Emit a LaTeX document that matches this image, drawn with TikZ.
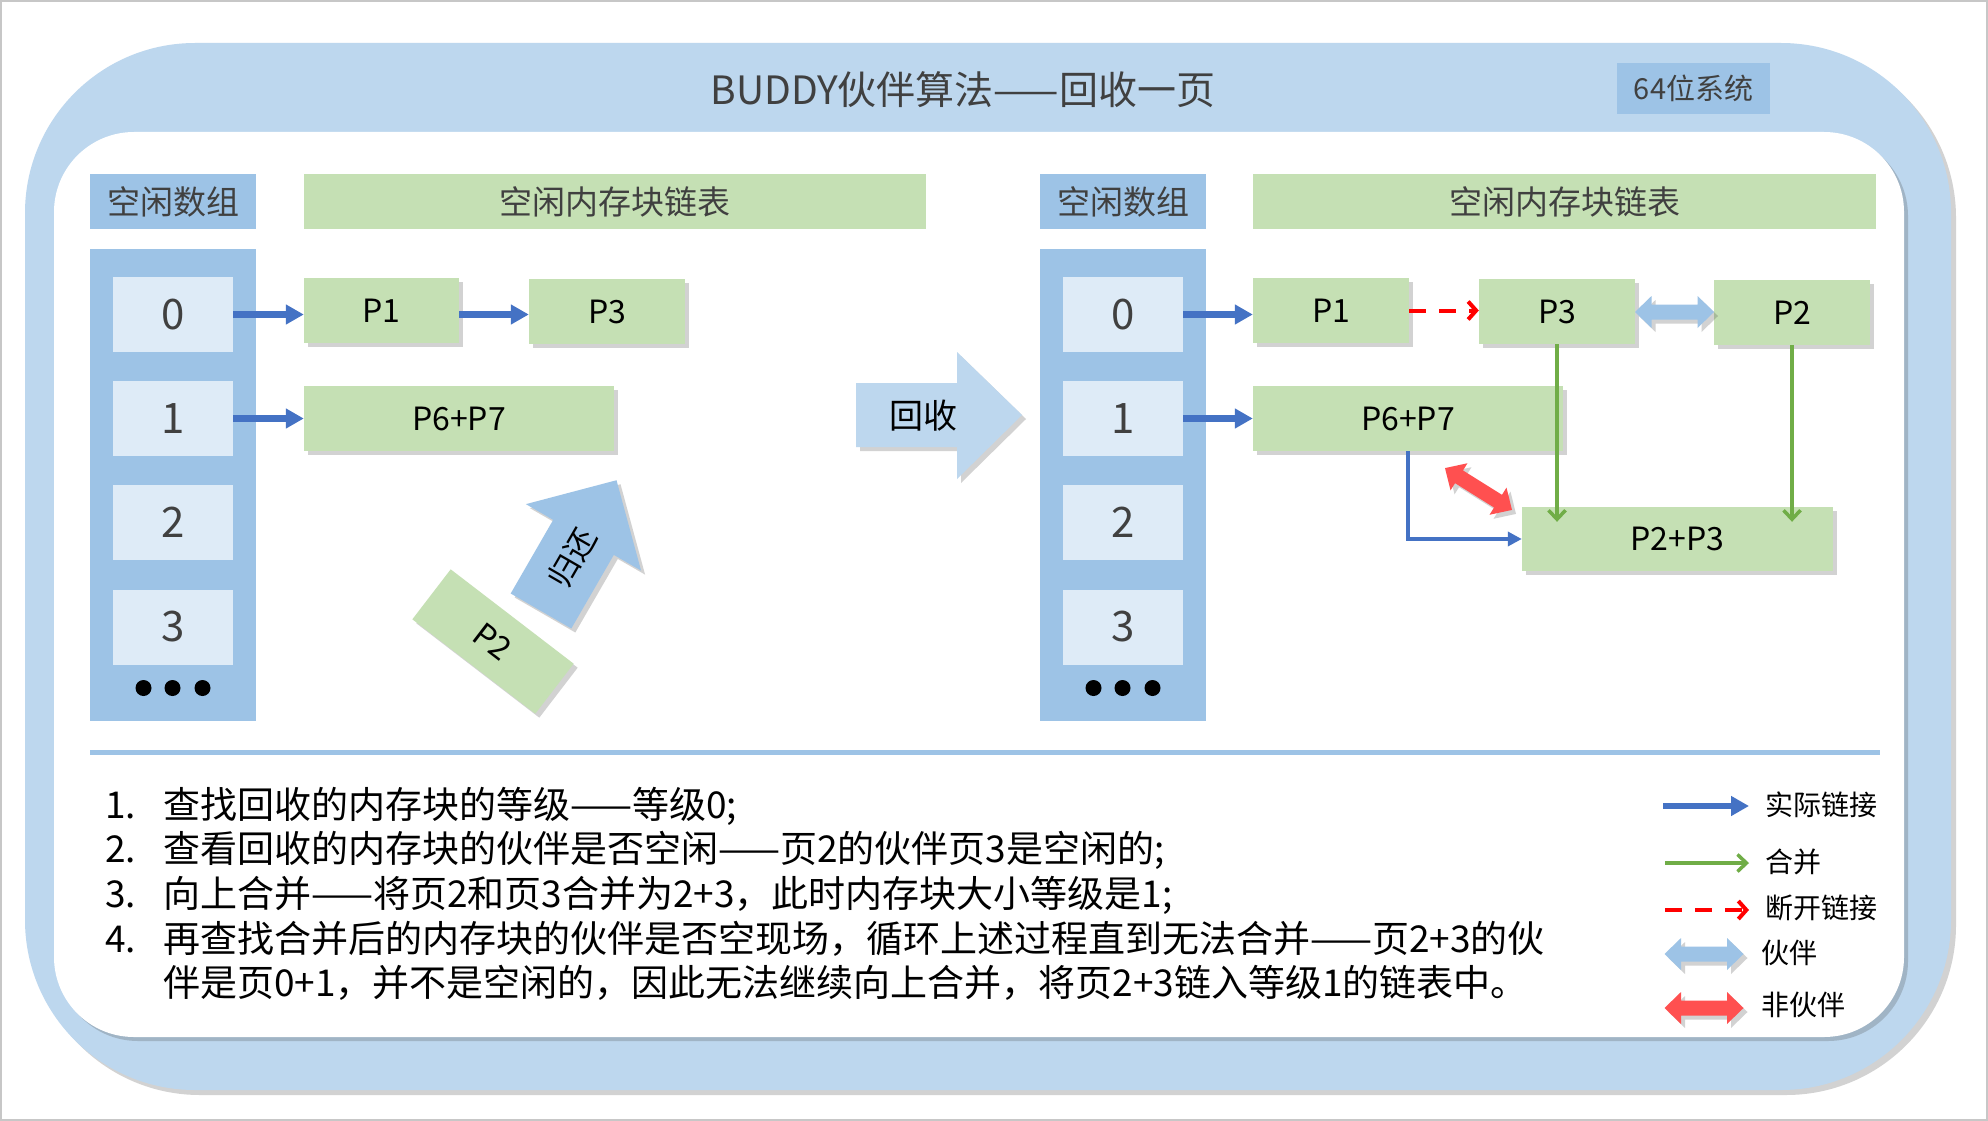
\documentclass[tikz,border=0pt]{standalone}
\usepackage{fontspec}
\setmainfont{Noto Sans CJK SC}
\usetikzlibrary{arrows.meta,shadows,calc}
\definecolor{frame}{HTML}{BDD7EE}
\definecolor{hdr}{HTML}{9DC3E6}
\definecolor{cell}{HTML}{DEEBF7}
\definecolor{grn}{HTML}{C5E0B4}
\definecolor{blu}{HTML}{4472C4}
\definecolor{lgrn}{HTML}{70AD47}
\definecolor{nred}{HTML}{FF5050}
\definecolor{txt}{HTML}{404040}
\tikzset{
 shd/.style={drop shadow={shadow xshift=4pt,shadow yshift=-4pt,opacity=.25,fill=black!70}},
 hdrbox/.style={fill=hdr, minimum height=55pt, inner sep=0pt, text=txt, font=\fontsize{33}{40}\selectfont},
 ghdr/.style={hdrbox, fill=grn},
 colbox/.style={fill=hdr, minimum width=166pt, minimum height=472pt, inner sep=0pt},
 cellbox/.style={fill=cell, minimum width=120pt, minimum height=75pt, inner sep=0pt, text=txt, font=\fontsize{42}{50}\selectfont},
 pbox/.style={fill=grn, minimum height=65pt, minimum width=156pt, inner sep=0pt, text=black, font=\fontsize{32}{38}\selectfont, shd},
 lnk/.style={draw=blu, line width=6.5pt, -{Triangle[length=18pt,width=19pt]}},
 lnkthin/.style={draw=blu, line width=4pt, -{Triangle[length=14pt,width=14pt]}},
 brk/.style={draw=red, line width=4pt, dash pattern=on 17pt off 13pt, -{Straight Barb[length=8pt,width=18pt]}},
 mrg/.style={draw=lgrn, line width=3.5pt, -{Straight Barb[length=9pt,width=17pt]}},
 lst/.style={inner sep=0pt, anchor=base west, text=black, font=\fontsize{37}{44}\selectfont},
 legt/.style={inner sep=0pt, anchor=west, text=black, font=\fontsize{28}{34}\selectfont},
 dotc/.style={circle, fill=black, minimum size=16pt, inner sep=0pt},
 dblarr/.pic={\path[pic actions, shd] (-39.5,0) -- (-23,-16) -- (-23,-7.5) -- (23,-7.5) -- (23,-16) -- (39.5,0) -- (23,16) -- (23,7.5) -- (-23,7.5) -- (-23,16) -- cycle;}
}
\begin{document}
\begin{tikzpicture}[x=1pt,y=-1pt]
\useasboundingbox (0,0) rectangle (1988,1121);
\fill[white] (0,0) rectangle (1988,1121);
\draw[line width=2pt, black!22] (1,1) rectangle (1987,1120);

% frames
\path[fill=frame, rounded corners=170pt, drop shadow={shadow xshift=5pt,shadow yshift=-5pt,opacity=.25,fill=black!70}] (25,43) rectangle (1951,1090);
\path[fill=white, rounded corners=80pt, shd] (54,132) rectangle (1904,1037);

% title
\node[text=txt, font=\fontsize{39}{46}\selectfont, inner sep=0pt] (title) at (963,90) {BUDDY伙伴算法——回收一页};
\node[fill=hdr, minimum width=153pt, minimum height=51pt, inner sep=0pt, text=txt, font=\fontsize{29}{34}\selectfont] (sys) at (1693.5,88.5) {64位系统};

% ---------- left section ----------
\node[hdrbox, minimum width=166pt] (hA1) at (173,201.5) {空闲数组};
\node[ghdr, minimum width=622pt] (hB1) at (615,201.5) {空闲内存块链表};
\node[colbox] (col1) at (173,485) {};
\node[cellbox] (a0) at (173,314.5) {0};
\node[cellbox] (a1) at (173,418.5) {1};
\node[cellbox] (a2) at (173,522.5) {2};
\node[cellbox] (a3) at (173,627) {3};
\node[dotc] (ad1) at (143.5,688) {};
\node[dotc] (ad2) at (172.5,688) {};
\node[dotc] (ad3) at (202.5,688) {};

\node[pbox, minimum width=155pt] (p1) at (381.5,310.5) {P1};
\node[pbox] (p3) at (607,311.5) {P3};
\node[pbox, minimum width=310pt] (p67) at (459,418.5) {P6+P7};

\draw[lnk] (a0.east) -- (a0.east -| p1.west);
\draw[lnk] (p1.east |- a0.east) -- (p3.west |- a0.east);
\draw[lnk] (a1.east) -- (a1.east -| p67.west);

% returned page P2 and arrow
\begin{scope}[shift={(493,641.5)}, rotate=-37.5]
\path[fill=grn, shd] (-77.5,-31.5) rectangle (77.5,31.5);
\end{scope}
\node[rotate=-37.5, inner sep=0pt, text=black, font=\fontsize{32}{38}\selectfont] (pfree) at (493,641.5) {P2};
\begin{scope}[shift={(541,611)}, rotate=60]
\path[fill=hdr, shd] (0,-35) -- (85,-35) -- (85,-66.5) -- (151,0) -- (85,66.5) -- (85,35) -- (0,35) -- cycle;
\end{scope}
\node[rotate=60, inner sep=0pt, text=black, font=\fontsize{31}{36}\selectfont] (ghuan) at ($(541,611)+(31,-53.7)$) {归还};

% big recycle arrow
\path[fill=frame, shd] (856,383) -- (957,383) -- (957,352) -- (1022,415) -- (957,479) -- (957,447) -- (856,447) -- cycle;
\node[inner sep=0pt, text=black, font=\fontsize{34}{40}\selectfont] (hs) at (923,416) {回收};

% ---------- right section ----------
\node[hdrbox, minimum width=166pt] (hA2) at (1123,201.5) {空闲数组};
\node[ghdr, minimum width=623pt] (hB2) at (1564.5,201.5) {空闲内存块链表};
\node[colbox] (col2) at (1123,485) {};
\node[cellbox] (b0) at (1123,314.5) {0};
\node[cellbox] (b1) at (1123,418.5) {1};
\node[cellbox] (b2) at (1123,522.5) {2};
\node[cellbox] (b3) at (1123,627) {3};
\node[dotc] (bd1) at (1093.5,688) {};
\node[dotc] (bd2) at (1122.5,688) {};
\node[dotc] (bd3) at (1152.5,688) {};

\node[pbox] (q1) at (1331,310.5) {P1};
\node[pbox] (q3) at (1557,311.5) {P3};
\node[pbox] (q2) at (1792,312.5) {P2};
\node[pbox, minimum width=310pt] (q67) at (1408,418.5) {P6+P7};
\node[pbox, minimum width=311pt, minimum height=64pt] (q23) at (1677.5,539) {P2+P3};

\draw[lnk] (b0.east) -- (b0.east -| q1.west);
\draw[brk] (q1.east) -- (q1.east -| q3.west);
\pic[fill=hdr] at ($(q3.east)!0.5!(q2.west)$) {dblarr};
\draw[lnk] (b1.east) -- (b1.east -| q67.west);
\draw[lnkthin] (q67.south) |- (q23.west);
\draw[mrg] (q3.south) -- ($(q3.south |- q23.north)+(0,15)$);
\draw[mrg] (q2.south) -- ($(q2.south |- q23.north)+(0,15)$);
\pic[fill=nred, rotate=-32] at (1478.5,489) {dblarr};

% separator
\draw[hdr, line width=5pt] (90,752) -- (1880,752);

% list
\node[lst] (n1) at (105,818) {1.};
\node[lst] (t1) at (163,818) {查找回收的内存块的等级——等级0;};
\node[lst] (n2) at (105,862) {2.};
\node[lst] (t2) at (163,862) {查看回收的内存块的伙伴是否空闲——页2的伙伴页3是空闲的;};
\node[lst] (n3) at (105,907) {3.};
\node[lst] (t3) at (163,907) {向上合并——将页2和页3合并为2+3，此时内存块大小等级是1;};
\node[lst] (n4) at (105,952) {4.};
\node[lst] (t4) at (163,952) {再查找合并后的内存块的伙伴是否空现场，循环上述过程直到无法合并——页2+3的伙};
\node[lst] (t5) at (163,996) {伴是页0+1，并不是空闲的，因此无法继续向上合并，将页2+3链入等级1的链表中。};

% legend
\coordinate (la1) at (1663,806); \coordinate (lb1) at (1749,806);
\draw[lnk] (la1) -- (lb1);
\node[legt] (lg1) at (1765,805) {实际链接};
\coordinate (la2) at (1665,863); \coordinate (lb2) at (1749,863);
\draw[mrg] (la2) -- (lb2);
\node[legt] (lg2) at (1765,862) {合并};
\coordinate (la3) at (1665,910); \coordinate (lb3) at (1749,910);
\draw[brk] (la3) -- (lb3);
\node[legt] (lg3) at (1765,908) {断开链接};
\pic[fill=hdr] at (1704,954) {dblarr};
\node[legt] (lg4) at (1761,953) {伙伴};
\pic[fill=nred] at (1704,1008) {dblarr};
\node[legt] (lg5) at (1761,1005) {非伙伴};
\end{tikzpicture}
\end{document}
